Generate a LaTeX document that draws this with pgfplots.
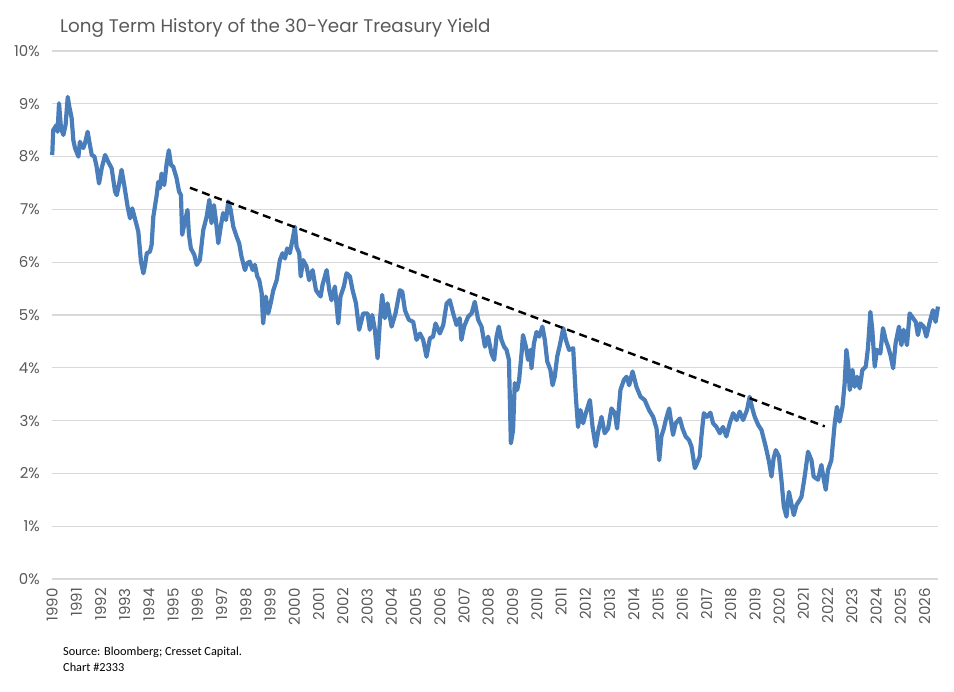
\documentclass[border=0pt]{standalone}
\usepackage{fontspec}
\setmainfont{Poppins}
\newfontfamily\carlito{Carlito}
\usepackage{pgfplots}
\pgfplotsset{compat=1.18}
\definecolor{lineblue}{RGB}{74,126,187}
\definecolor{txtgray}{RGB}{89,89,89}
\definecolor{gridgray}{RGB}{217,217,217}
\begin{document}
\begin{tikzpicture}
\useasboundingbox (-52pt,-113pt) rectangle (902pt,579pt);
\begin{axis}[
  at={(0pt,0pt)}, anchor=south west,
  scale only axis, width=886pt, height=528pt,
  xmin=1990, xmax=2026.55, ymin=0, ymax=10,
  axis line style={draw=none},
  major tick length=0pt,
  ymajorgrids, grid style={draw=gridgray, line width=1.3pt},
  ytick={0,1,...,10},
  yticklabels={0\%,1\%,2\%,3\%,4\%,5\%,6\%,7\%,8\%,9\%,10\%},
  xtick={1990,1991,...,2026},
  xticklabels={1990,1991,1992,1993,1994,1995,1996,1997,1998,1999,2000,2001,2002,2003,2004,2005,2006,2007,2008,2009,2010,2011,2012,2013,2014,2015,2016,2017,2018,2019,2020,2021,2022,2023,2024,2025,2026},
  yticklabel style={anchor=east, inner sep=0pt, xshift=-12pt, font=\fontsize{15}{18}\selectfont, text=txtgray},
  xticklabel style={rotate=90, anchor=east, inner xsep=9pt, inner ysep=0pt, font=\fontsize{15}{18}\selectfont, text=txtgray},
  clip=false,
]
\addplot[lineblue, line width=4.2pt, line join=round, mark=none] coordinates {
(1990.01,8.03) (1990.05,8.50) (1990.19,8.60) (1990.23,8.47) (1990.29,9.01) (1990.37,8.54) (1990.47,8.41) (1990.56,8.60) (1990.65,9.13) (1990.70,8.98) (1990.81,8.73) (1990.88,8.31) (1990.95,8.16) (1991.09,8.00) (1991.15,8.28) (1991.29,8.16) (1991.36,8.25) (1991.47,8.47) (1991.53,8.31) (1991.64,8.03) (1991.75,8.00) (1991.84,7.81) (1991.94,7.49) (1992.05,7.78) (1992.19,8.03) (1992.32,7.90) (1992.46,7.78) (1992.60,7.34) (1992.67,7.27) (1992.76,7.46) (1992.87,7.75) (1992.98,7.46) (1993.12,7.05) (1993.22,6.83) (1993.31,7.02) (1993.42,6.83) (1993.56,6.58) (1993.67,6.01) (1993.77,5.79) (1993.84,5.95) (1993.91,6.17) (1994.04,6.20) (1994.11,6.33) (1994.18,6.86) (1994.32,7.27) (1994.38,7.52) (1994.45,7.40) (1994.52,7.68) (1994.63,7.46) (1994.73,7.87) (1994.82,8.12) (1994.91,7.84) (1995.00,7.81) (1995.14,7.59) (1995.24,7.34) (1995.32,7.27) (1995.37,6.52) (1995.48,6.77) (1995.59,6.99) (1995.65,6.52) (1995.73,6.26) (1995.87,6.14) (1995.97,5.95) (1996.10,6.04) (1996.24,6.61) (1996.38,6.86) (1996.49,7.18) (1996.58,6.74) (1996.68,7.08) (1996.76,6.80) (1996.86,6.36) (1996.96,6.67) (1997.06,6.93) (1997.18,6.80) (1997.27,7.15) (1997.37,6.99) (1997.48,6.67) (1997.62,6.48) (1997.72,6.36) (1997.82,6.10) (1997.96,5.85) (1998.05,5.98) (1998.16,6.01) (1998.28,5.85) (1998.37,5.95) (1998.47,5.73) (1998.55,5.66) (1998.65,5.41) (1998.71,4.84) (1998.82,5.35) (1998.92,5.03) (1999.02,5.22) (1999.13,5.47) (1999.27,5.66) (1999.40,6.04) (1999.51,6.17) (1999.61,6.07) (1999.70,6.26) (1999.81,6.17) (1999.92,6.42) (2000.02,6.67) (2000.09,6.29) (2000.20,6.17) (2000.26,5.73) (2000.36,6.04) (2000.50,5.92) (2000.61,5.66) (2000.75,5.85) (2000.89,5.47) (2000.98,5.41) (2001.08,5.35) (2001.16,5.57) (2001.33,5.85) (2001.44,5.47) (2001.53,5.28) (2001.67,5.54) (2001.81,4.84) (2001.90,5.35) (2002.04,5.54) (2002.15,5.79) (2002.29,5.73) (2002.40,5.47) (2002.54,5.22) (2002.67,4.72) (2002.84,5.03) (2003.02,5.03) (2003.11,4.72) (2003.21,5.00) (2003.32,4.72) (2003.43,4.18) (2003.53,4.91) (2003.62,5.38) (2003.73,4.94) (2003.84,5.22) (2004.01,4.78) (2004.17,5.03) (2004.35,5.47) (2004.45,5.44) (2004.56,5.09) (2004.72,4.91) (2004.90,4.87) (2005.04,4.53) (2005.18,4.65) (2005.31,4.53) (2005.45,4.21) (2005.59,4.56) (2005.72,4.59) (2005.82,4.84) (2006.00,4.65) (2006.14,4.81) (2006.28,5.22) (2006.41,5.28) (2006.55,5.03) (2006.69,4.81) (2006.82,4.94) (2006.89,4.53) (2007.00,4.78) (2007.17,4.97) (2007.31,5.03) (2007.44,5.25) (2007.58,4.91) (2007.72,4.78) (2007.86,4.40) (2007.99,4.59) (2008.13,4.27) (2008.24,4.15) (2008.34,4.59) (2008.43,4.78) (2008.54,4.53) (2008.65,4.40) (2008.75,4.34) (2008.85,4.15) (2008.93,2.57) (2009.02,2.82) (2009.09,3.71) (2009.19,3.58) (2009.27,3.77) (2009.37,4.27) (2009.43,4.62) (2009.55,4.40) (2009.64,4.15) (2009.74,4.34) (2009.78,3.99) (2009.88,4.46) (2009.99,4.68) (2010.10,4.59) (2010.23,4.78) (2010.33,4.53) (2010.43,4.12) (2010.56,3.96) (2010.65,3.67) (2010.74,3.83) (2010.84,4.21) (2010.95,4.43) (2011.09,4.75) (2011.20,4.53) (2011.33,4.34) (2011.50,4.37) (2011.61,3.45) (2011.70,2.88) (2011.80,3.20) (2011.91,2.95) (2012.02,3.14) (2012.19,3.39) (2012.30,2.88) (2012.43,2.51) (2012.53,2.79) (2012.67,3.07) (2012.80,2.76) (2012.94,2.85) (2013.08,3.23) (2013.22,3.14) (2013.31,2.85) (2013.45,3.58) (2013.59,3.77) (2013.70,3.83) (2013.81,3.67) (2013.95,3.93) (2014.11,3.64) (2014.28,3.45) (2014.45,3.39) (2014.63,3.20) (2014.80,3.07) (2014.94,2.85) (2015.05,2.25) (2015.14,2.70) (2015.24,2.85) (2015.32,3.01) (2015.46,3.23) (2015.55,2.95) (2015.62,2.73) (2015.73,2.95) (2015.90,3.04) (2016.01,2.85) (2016.14,2.70) (2016.28,2.63) (2016.38,2.51) (2016.52,2.10) (2016.61,2.19) (2016.72,2.32) (2016.79,2.70) (2016.89,3.14) (2017.02,3.07) (2017.16,3.15) (2017.27,2.95) (2017.41,2.88) (2017.55,2.76) (2017.68,2.88) (2017.82,2.70) (2017.96,2.95) (2018.10,3.14) (2018.24,3.01) (2018.37,3.17) (2018.51,3.01) (2018.67,3.20) (2018.78,3.45) (2018.89,3.23) (2018.99,3.07) (2019.13,2.92) (2019.27,2.82) (2019.44,2.51) (2019.58,2.22) (2019.68,1.94) (2019.77,2.29) (2019.86,2.44) (2019.99,2.32) (2020.09,1.88) (2020.19,1.37) (2020.30,1.18) (2020.40,1.65) (2020.50,1.43) (2020.60,1.21) (2020.71,1.40) (2020.85,1.50) (2020.92,1.56) (2021.05,1.94) (2021.19,2.41) (2021.33,2.25) (2021.42,1.94) (2021.60,1.88) (2021.74,2.16) (2021.84,1.88) (2021.92,1.69) (2022.01,2.06) (2022.15,2.25) (2022.29,2.95) (2022.38,3.26) (2022.49,2.98) (2022.61,3.26) (2022.70,3.71) (2022.77,4.34) (2022.84,4.09) (2022.91,3.58) (2023.02,3.96) (2023.11,3.64) (2023.21,3.83) (2023.32,3.61) (2023.43,3.96) (2023.57,4.02) (2023.66,4.37) (2023.76,5.06) (2023.84,4.72) (2023.94,4.02) (2024.03,4.34) (2024.17,4.27) (2024.28,4.75) (2024.39,4.53) (2024.49,4.40) (2024.59,4.24) (2024.70,3.99) (2024.80,4.46) (2024.94,4.78) (2025.04,4.43) (2025.13,4.72) (2025.27,4.43) (2025.38,5.03) (2025.52,4.94) (2025.63,4.87) (2025.72,4.62) (2025.82,4.84) (2025.96,4.78) (2026.07,4.59) (2026.21,4.87) (2026.34,5.09) (2026.45,4.87) (2026.55,5.16)
};
\addplot[black, line width=2.4pt, dash pattern=on 8pt off 5pt, mark=none] coordinates {(1995.69,7.41) (2021.88,2.89)};
\end{axis}
\node[anchor=base west, inner sep=0pt, text=txtgray, font=\fontsize{18.3}{22}\selectfont] at (8pt,546pt) {Long Term History of the 30-Year Treasury Yield};
\node[anchor=base west, inner sep=0pt, align=left, font=\carlito\fontsize{12.3}{16}\selectfont] at (11pt,-93pt) {Source: Bloomberg; Cresset Capital.\\Chart \#2333};
\end{tikzpicture}
\end{document}
